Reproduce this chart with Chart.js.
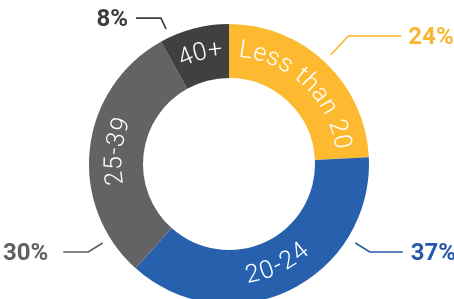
<!DOCTYPE html>
<html>
<head>
<meta charset="utf-8">
<script src="https://cdn.jsdelivr.net/npm/chart.js@4.4.1/dist/chart.umd.min.js"></script>
<style>
  html, body { margin: 0; padding: 0; background: #fff; overflow: hidden; }
  #contenedor { width: 454px; height: 328px; position: relative; }
</style>
</head>
<body>
<div id="contenedor"><canvas id="graficaDona"></canvas></div>
<script>
// Datos de la gráfica
const categorias = ['Less than 20', '20-24', '25-39', '40+'];
const porcentajes = [24, 37, 30, 8];
const colores = ['#FDBA30', '#2760AD', '#636365', '#404040'];
const coloresEtiqueta = ['#F9B52F', '#2659A8', '#5F5F5F', '#3C3C3C'];

// Ajustes de las líneas guía (ángulo en grados desde arriba, tramo radial, tramo horizontal, separación del texto)
const guiaAngulo = [43, 122, 238, 335];
const guiaRadial = [26, 17, 17, 12];
const guiaHorizontal = [53, 33, 25, 25];
const guiaSeparacion = [7, 8, 15, 8];

// Dibuja un texto siguiendo el arco (con un poco de espacio entre letras)
function textoEnArco(ctx, texto, cx, cy, r, anguloMedio, haciaDentro) {
    const espacio = 1.2;
    const letras = [...texto];
    const anchos = letras.map(l => ctx.measureText(l).width + espacio);
    const total = anchos.reduce((a, b) => a + b, 0) - espacio;
    const dir = haciaDentro ? -1 : 1;
    let a = anguloMedio - dir * total / (2 * r);
    letras.forEach((l, i) => {
        const mitad = (anchos[i] - espacio) / 2 / r;
        a += dir * mitad;
        ctx.save();
        ctx.translate(cx + r * Math.cos(a), cy + r * Math.sin(a));
        ctx.rotate(haciaDentro ? a - Math.PI / 2 : a + Math.PI / 2);
        ctx.fillText(l, 0, 0);
        ctx.restore();
        a += dir * (mitad + espacio / r);
    });
}

const pluginEtiquetas = {
    id: 'etiquetas',
    afterDatasetsDraw(chart) {
        const ctx = chart.ctx;
        const arcos = chart.getDatasetMeta(0).data;
        ctx.save();
        arcos.forEach((arco, i) => {
            const { x, y, startAngle, endAngle, innerRadius, outerRadius } = arco.getProps(['x', 'y', 'startAngle', 'endAngle', 'innerRadius', 'outerRadius'], true);
            const medio = (startAngle + endAngle) / 2;
            const rMedio = (innerRadius + outerRadius) / 2 + 1;

            // Nombre de la categoría dentro del anillo
            ctx.fillStyle = '#ffffff';
            ctx.font = '300 25px Roboto, "Open Sans", sans-serif';
            ctx.textAlign = 'center';
            ctx.textBaseline = 'middle';
            const abajo = Math.sin(medio) > 0.5;
            textoEnArco(ctx, categorias[i], x, y, rMedio, medio, abajo);

            // Línea guía
            const ang = (guiaAngulo[i] - 90) * Math.PI / 180;
            const r0 = outerRadius + 9;
            const r1 = r0 + guiaRadial[i];
            const x0 = x + r0 * Math.cos(ang), y0 = y + r0 * Math.sin(ang);
            const x1 = x + r1 * Math.cos(ang), y1 = y + r1 * Math.sin(ang);
            const lado = Math.cos(ang) >= 0 ? 1 : -1;
            const x2 = x1 + lado * guiaHorizontal[i];
            ctx.strokeStyle = coloresEtiqueta[i];
            ctx.lineWidth = 1.6;
            ctx.beginPath();
            ctx.moveTo(x0, y0);
            ctx.lineTo(x1, y1);
            ctx.lineTo(x2, y1);
            ctx.stroke();

            // Porcentaje
            ctx.fillStyle = coloresEtiqueta[i];
            ctx.font = 'bold 24px Roboto, "Liberation Sans", sans-serif';
            ctx.textAlign = lado > 0 ? 'left' : 'right';
            ctx.textBaseline = 'middle';
            ctx.fillText(porcentajes[i] + '%', x2 + lado * guiaSeparacion[i], y1 + 2);
        });
        ctx.restore();
    }
};

const ctx = document.getElementById('graficaDona').getContext('2d');
new Chart(ctx, {
    type: 'doughnut',
    data: {
        labels: categorias,
        datasets: [{
            data: porcentajes,
            backgroundColor: colores,
            borderWidth: 0
        }]
    },
    options: {
        responsive: true,
        maintainAspectRatio: false,
        animation: false,
        radius: 140,
        cutout: 86,
        layout: { padding: { top: 24, bottom: 24, left: 89, right: 85 } },
        plugins: {
            legend: { display: false },
            tooltip: { enabled: false }
        }
    },
    plugins: [pluginEtiquetas]
});
</script>
</body>
</html>
